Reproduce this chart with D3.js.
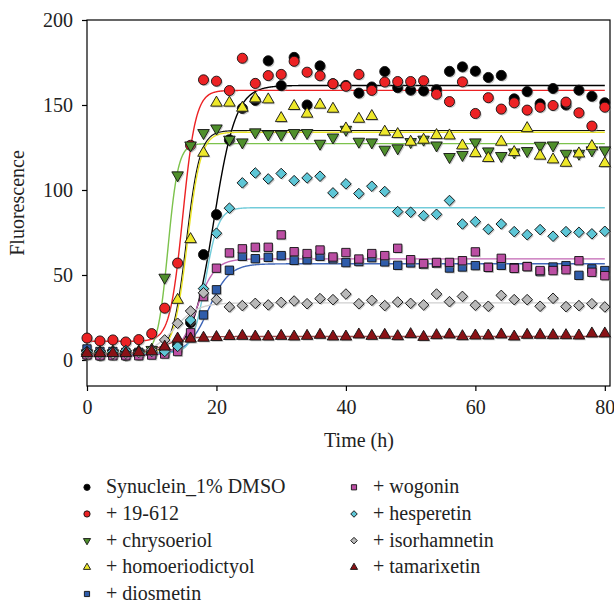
<!DOCTYPE html>
<head>
<meta charset="utf-8">
<script src="https://d3js.org/d3.v7.min.js"></script>
<style>
  body { margin: 0; background: #fff; }
  text { font-family: "Liberation Serif", "Times New Roman", serif; fill: #222; }
</style>
</head>
<body>
<div id="chart"></div>
<script>
// sampling times (h)
var times = [0,2,4,6,8,10,12,14,16,18,20,22,24,26,28,30,32,34,36,38,40,
             42,44,46,48,50,52,54,56,58,60,62,64,66,68,70,72,74,76,78,80];

var dmso     = [3,2.5,3,2.5,3,4,5,9,22,62,85.5,129.5,148,152.7,176,161.4,178,150,173,162.5,161.5,
                157,160.6,169.7,160.2,158.7,158.3,159,169.8,172.4,169.9,166.2,167.4,153.6,157.9,150.7,159.7,150,158.7,155.1,151.3];
var c19612   = [12.9,11.2,11.8,10.6,12,15.5,30.5,57,126.3,164.8,164,158.5,177.5,162.7,167.3,168,175.7,169.3,167.2,162.5,161,
                168,158.6,163.5,163.8,163.8,164.3,156.3,152,163.6,145,154.3,147.6,151.3,147,148.7,149.7,151.7,145.4,137.6,148.7];
var chrysoeriol = [4,3.5,4,3.5,4,6,48.5,108.7,126.3,133.6,136.3,129.7,128.1,134,132.8,132.6,133.6,133.6,127.3,131,135.5,
                128.5,128.1,123.8,124.6,128.3,129.7,126.3,119.5,120.7,128.1,122.8,120.1,122.2,123,126.1,126.3,121.4,121.4,123.4,123.4];
var homoeriodictyol = [5,4.5,5,4.5,5,6,8,35.3,71,121.8,151.3,151.3,148.3,153.8,153.2,142.2,149.3,144.8,150.1,147.7,136.1,
                141.8,143.4,134.2,132.8,128.3,129.5,132.2,132,126.1,121.6,118.7,128.3,122.2,136.3,120.1,117.9,115.9,121.4,125.7,115.7];
var diosmetin = [6.5,5,5,4.5,4.5,4,4.5,7,13,26.5,41.3,52.8,61,59.6,60.4,61.4,58.6,59,61,59.5,57.3,
                57.9,60.2,57.7,55.7,57.1,56.3,56.9,54.1,54.7,55.5,54.5,55.7,54.3,55,52,54.7,55.5,49.8,53.6,52.6];
var wogonin  = [3,2.5,2.5,2.5,2.5,2.9,3.5,5,16,37.3,54,63,65.4,66.3,66.3,73.6,63.7,62.6,64.7,60.6,63.2,
                59.4,62.6,61.4,65.7,59,56.7,57.4,57.4,58.4,63.6,54.5,59.8,53.9,54.9,52.6,52.6,53.1,58.4,51.6,49.6];
var hesperetin = [5,5,5,5.5,5,5,5,8,23.5,42,74.6,89.3,104.2,110,106.5,109.7,105.5,107.1,108.1,98.3,103.6,
                97.9,102.2,99.1,87.3,86.9,84.9,85.7,93.8,80,81.4,76.9,80,75.5,73.7,76.7,72.8,75.5,75.1,74.2,75.7];
var isorhamnetin = [4,4,3.5,4,4.5,6,11.8,21.6,28.8,39.5,35.5,31.2,32,33.3,32.4,33.9,34.7,33.1,36.1,35.5,38.8,
                33.1,35.1,32,34.1,33.3,32.4,38.8,34.3,37.4,32.2,31.6,38,35.5,35.5,31.6,36.3,31.4,32,33.1,31.2];
var tamarixetin = [4,4,4,4,4.5,5,7.8,12.5,12.5,13,13.4,14,14.1,13.7,13.7,14.1,13.7,14.1,14.7,13.7,13.7,
                14.9,14.1,14.7,13.9,15.1,13.5,14.5,14.9,13.9,14.3,14.3,14.9,13.7,14.7,14.7,14.5,14.5,14.3,15.5,15.5];

// sigmoid fit: [baseline, plateau, midpoint, slope]
var fitDmso = [2.5, 161.5, 19.6, 1.7];
var fit19612 = [11, 158.6, 14.8, 1.0];
var fitChrysoeriol = [3.5, 127.3, 12.5, 0.8];
var fitHomoeriodictyol = [4, 134, 15.5, 1.05];
var fitDiosmetin = [3.5, 56.6, 18.8, 1.6];
var fitWogonin = [2.5, 59.5, 17.0, 1.4];
var fitHesperetin = [4, 89.6, 18.3, 1.0];
var fitIsorhamnetin = [3.5, 33.6, 13.5, 1.8];
var fitTamarixetin = [3.5, 13.8, 12, 1.8];

var names = ["Synuclein_1% DMSO", "+ 19-612", "+ chrysoeriol", "+ homoeriodictyol", "+ diosmetin",
             "+ wogonin", "+ hesperetin", "+ isorhamnetin", "+ tamarixetin"];
var xTicks = [0, 20, 40, 60, 80];
var yTicks = [0, 50, 100, 150, 200];

var series = [
  {name: names[0], values: dmso, fit: fitDmso, shape: "circle", fill: "#000000", line: "#000000"},
  {name: names[1], values: c19612, fit: fit19612, shape: "circle", fill: "#ec2224", line: "#ec2224"},
  {name: names[2], values: chrysoeriol, fit: fitChrysoeriol, shape: "down", fill: "#4f8f2c", line: "#7cc24c"},
  {name: names[3], values: homoeriodictyol, fit: fitHomoeriodictyol, shape: "up", fill: "#eee82a", line: "#e8e224"},
  {name: names[4], values: diosmetin, fit: fitDiosmetin, shape: "square", fill: "#2f5caa", line: "#3f66b8"},
  {name: names[5], values: wogonin, fit: fitWogonin, shape: "square", fill: "#bb4ea3", line: "#c266b4"},
  {name: names[6], values: hesperetin, fit: fitHesperetin, shape: "diamond", fill: "#5ec6d6", line: "#72ccda"},
  {name: names[7], values: isorhamnetin, fit: fitIsorhamnetin, shape: "diamond", fill: "#b9b9b9", line: "#cfcfcf"},
  {name: names[8], values: tamarixetin, fit: fitTamarixetin, shape: "up", fill: "#8a1216", line: "#a04a4a"}
];

var W = 614, H = 603;
var svg = d3.select("#chart").append("svg").attr("width", W).attr("height", H);

var x = d3.scaleLinear().domain([0, 80.8]).range([87, 610]);
var y = d3.scaleLinear().domain([-15.3, 200]).range([386, 20]);

function sigmoid(p, t) {
  return p[1] + (p[0] - p[1]) / (1 + Math.exp((t - p[2]) / p[3]));
}

function symbolPath(shape, big) {
  var s = big ? 1 : 0.62;
  if (shape == "circle") return d3.symbol().type(d3.symbolCircle).size(80 * s * s)();
  if (shape == "square") return d3.symbol().type(d3.symbolSquare).size(70 * s * s)();
  if (shape == "diamond") return d3.symbol().type(d3.symbolSquare).size(56 * s * s)();
  return d3.symbol().type(d3.symbolTriangle).size(58 * s * s)();
}
function symbolRotate(shape) {
  if (shape == "diamond") return 45;
  if (shape == "down") return 180;
  return 0;
}

// frame
svg.append("rect")
  .attr("x", x(0)).attr("y", y(200))
  .attr("width", x(80.8) - x(0)).attr("height", y(-15.3) - y(200))
  .attr("fill", "none").attr("stroke", "#000").attr("stroke-width", 1.2);

// axes
var yAxis = svg.append("g").attr("transform", "translate(" + x(0) + ",0)")
  .call(d3.axisLeft(y).tickValues(yTicks).tickSize(5).tickPadding(9));
var xAxis = svg.append("g").attr("transform", "translate(0," + y(-15.3) + ")")
  .call(d3.axisBottom(x).tickValues(xTicks).tickSize(5).tickPadding(9));
[xAxis, yAxis].forEach(function(g) {
  g.select(".domain").remove();
  g.selectAll(".tick line").attr("stroke", "#000").attr("stroke-width", 1.2);
  g.selectAll(".tick text").style("font-family", "Liberation Serif").style("font-size", "20px").attr("fill", "#222");
});

svg.append("text").attr("x", 359).attr("y", 447).attr("text-anchor", "middle")
  .style("font-size", "20px").text("Time (h)");
svg.append("text").attr("transform", "translate(24,203) rotate(-90)").attr("text-anchor", "middle")
  .style("font-size", "20px").text("Fluorescence");

// fitted curves
var tFine = d3.range(0, 80.001, 0.1);
var line = d3.line().x(function(d) { return x(d[0]); }).y(function(d) { return y(d[1]); });
var curves = svg.append("g").attr("fill", "none").attr("stroke-width", 1.4);
series.forEach(function(s) {
  if (s.shape == "up" && s.fill == "#eee82a") {
    // dark companion line drawn beside the yellow fit
    var p2 = [s.fit[0], s.fit[1] + 1.0, s.fit[2] - 0.15, s.fit[3]];
    curves.append("path").attr("stroke", "#111").attr("stroke-width", 1.2)
      .attr("d", line(tFine.map(function(t) { return [t, sigmoid(p2, t)]; })));
  }
  curves.append("path").attr("stroke", s.line)
    .attr("d", line(tFine.map(function(t) { return [t, sigmoid(s.fit, t)]; })));
});

// points
series.forEach(function(s) {
  var g = svg.append("g");
  var pts = times.map(function(t, i) { return {t: t, v: s.values[i]}; });
  g.selectAll("path.shadow").data(pts).enter().append("path")
    .attr("class", "shadow")
    .attr("d", symbolPath(s.shape, true))
    .attr("fill", "#8c8c8c").attr("opacity", 0.45)
    .attr("transform", function(d) {
      return "translate(" + (x(d.t) + 1.3) + "," + (y(d.v) + 1.3) + ") rotate(" + symbolRotate(s.shape) + ")";
    });
  g.selectAll("path.pt").data(pts).enter().append("path")
    .attr("class", "pt")
    .attr("d", symbolPath(s.shape, true))
    .attr("fill", s.fill).attr("stroke", "#111").attr("stroke-width", 0.9)
    .attr("transform", function(d) {
      return "translate(" + x(d.t) + "," + y(d.v) + ") rotate(" + symbolRotate(s.shape) + ")";
    });
});

// legend
var legend = svg.append("g");
series.forEach(function(s, i) {
  var col = i < 5 ? 0 : 1, row = i < 5 ? i : i - 5;
  var mx = col == 0 ? 87 : 354, base = 493.3 + row * 26.67;
  legend.append("path")
    .attr("d", symbolPath(s.shape, false))
    .attr("fill", s.fill).attr("stroke", "#111").attr("stroke-width", 0.9)
    .attr("transform", "translate(" + mx + "," + (base - 6) + ") rotate(" + symbolRotate(s.shape) + ")");
  legend.append("text").attr("x", mx + 19).attr("y", base)
    .style("font-size", "20px").text(s.name);
});
</script>
</body>
